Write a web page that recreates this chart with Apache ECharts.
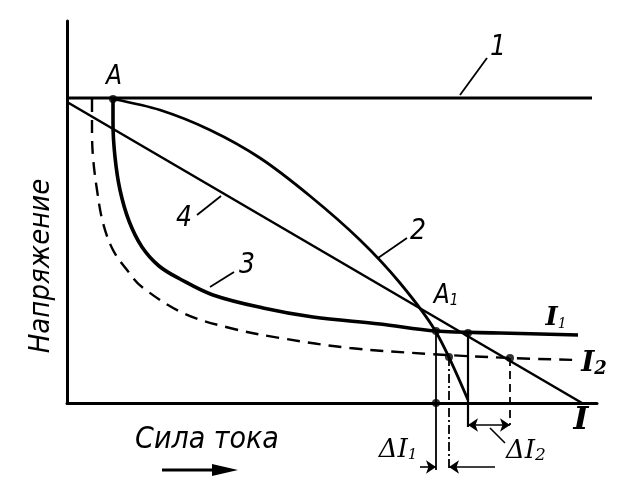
<!DOCTYPE html>
<html><head><meta charset="utf-8">
<script src="https://cdn.jsdelivr.net/npm/echarts@6/dist/echarts.min.js"></script>
<style>html,body{margin:0;padding:0;background:#fff}#c{width:621px;height:483px}</style>
</head><body><div id="c"></div>
<script>
// Schematic units: x = current (arbitrary units), y = voltage (arbitrary units)
const line1 = [[0,305],[525,305]];                       // curve 1 (constant voltage)
const line4 = [[0,301],[515,0]];                         // curve 4 (sloping)
const curve2 = [[46,304],[93,293],[143,273],[193,245],[243,207],[293,163],[333,120],[369,71],[401,3]];
const curve3 = [[46,304],[46,280],[48,246],[53,213],[62,182],[75,156],[92,137],[113,124],[146,108],[196,95],[246,86],[313,79],[369,72],[433,70],[511,68]];
const curveL2 = [[25,304],[25,273],[26,246],[30,213],[36,180],[46,153],[60,133],[75,116],[116,90],[163,75],[213,65],[283,55],[363,49],[443,45],[511,43]];
const dropA1 = [[369,71],[369,-67]];
const dropB = [[382,46],[382,-67]];
const dropC = [[401,70],[401,-24]];
const dropD = [[443,45],[443,-22]];
const points = [[46,304],[369,72],[382,46],[401,70],[443,45],[369,0]];
const dI1Left = [[353,-64],[369,-64]];
const dI1Right = [[428,-64],[382,-64]];
const dI2 = [[401,-22],[443,-22]];

const SANS = "'DejaVu Sans Condensed','Liberation Sans Narrow','DejaVu Sans',sans-serif";
const SERIF = "'DejaVu Serif','Liberation Serif',serif";
const K = '#000';

function ln(data, width, type, smooth) {
  return {type:'line', data, symbol:'none', clip:false, smooth: smooth||false, silent:true,
    smoothMonotone: 'none',
    lineStyle:{color:K, width, type: type||'solid', cap:'butt'}, z:3};
}
function arrows(list, sym) {
  return {type:'lines', coordinateSystem:'cartesian2d', clip:false, silent:true, polyline:false,
    symbol:sym, symbolSize:10, lineStyle:{color:K, width:1.6, opacity:1},
    data:list.map(c => ({coords:c})), z:6};
}
const chart = echarts.init(document.getElementById('c'), null, {renderer:'canvas'});
const txt = (x,y,text,size,fam,extra) => Object.assign({type:'text', x, y, z:10,
  style:{text, fill:K, fontSize:size, fontFamily:fam||SANS, fontStyle:'italic', align:'center', verticalAlign:'middle'}}, extra||{});
const seg = (x1,y1,x2,y2,w) => ({type:'line', z:10, shape:{x1,y1,x2,y2}, style:{stroke:K, lineWidth:w||2}});

chart.setOption({
  animation:false,
  backgroundColor:'#fff',
  grid:{left:67, right:24, top:21, bottom:80},
  xAxis:{type:'value', min:0, max:530, axisLine:{show:true, onZero:false, lineStyle:{color:K, width:3}},
    axisTick:{show:false}, axisLabel:{show:false}, splitLine:{show:false}},
  yAxis:{type:'value', min:0, max:382, axisLine:{show:true, onZero:false, lineStyle:{color:K, width:3}},
    axisTick:{show:false}, axisLabel:{show:false}, splitLine:{show:false}},
  series:[
    ln(line1, 3),
    ln(line4, 2.6),
    ln(curve2, 2.8, 'solid', 0.3),
    ln(curve3, 3.6, 'solid', 0.35),
    ln(curveL2, 2.4, [13,8], 0.35),
    ln(dropA1, 1.8),
    ln(dropB, 1.8, [9,3,2,3]),
    ln(dropC, 2.2),
    ln(dropD, 1.8, [8,5]),
    arrows([dI1Left, dI1Right], ['none','arrow']),
    arrows([dI2], ['arrow','arrow']),
    {type:'scatter', data:points, symbol:'circle', symbolSize:8, clip:false, silent:true,
      itemStyle:{color:K}, z:5}
  ],
  graphic:[
    txt(41,266,'Напряжение',29,SANS,{rotation:Math.PI/2}),
    txt(207,440,'Сила тока',30),
    seg(162,470,226,470,3),
    {type:'polygon', z:10, shape:{points:[[212,464],[238,470],[212,476]]}, style:{fill:K}},
    txt(114,77,'A',26),
    {type:'text', x:446, y:296, z:10, style:{text:'{a|A}{s|1}', fill:K, align:'center', verticalAlign:'middle',
      rich:{a:{fontSize:26, fontFamily:SANS, fontStyle:'italic', fill:K, verticalAlign:'bottom'},
            s:{fontSize:15, fontFamily:SANS, fontStyle:'italic', fill:K, verticalAlign:'bottom'}}}},
    txt(498,48,'1',28), seg(460,95,487,58,1.8),
    txt(418,232,'2',28), seg(378,258,407,238,1.8),
    txt(247,266,'3',28), seg(210,287,234,272,1.8),
    txt(184,219,'4',28), seg(197,215,221,196,1.8),
    {type:'text', x:556, y:318, z:10, style:{text:'{a|I}{s|1}', fill:K, align:'center', verticalAlign:'middle',
      rich:{a:{fontSize:26, fontFamily:SERIF, fontStyle:'italic', fontWeight:'bold', fill:K, verticalAlign:'bottom'},
            s:{fontSize:14, fontFamily:SERIF, fontStyle:'italic', fill:K, verticalAlign:'bottom'}}}},
    {type:'text', x:594, y:364, z:10, style:{text:'{a|I}{s|2}', fill:K, align:'center', verticalAlign:'middle',
      rich:{a:{fontSize:28, fontFamily:SERIF, fontStyle:'italic', fontWeight:'bold', fill:K, verticalAlign:'bottom'},
            s:{fontSize:18, fontFamily:SERIF, fontStyle:'italic', fontWeight:'bold', fill:K, verticalAlign:'bottom'}}}},
    {type:'text', x:581, y:421, z:10, style:{text:'I', fill:K, fontSize:32, fontFamily:SERIF, fontStyle:'italic', fontWeight:'bold', align:'center', verticalAlign:'middle'}},
    {type:'text', x:398, y:450, z:10, style:{text:'{a|ΔI}{s|1}', fill:K, align:'center', verticalAlign:'middle',
      rich:{a:{fontSize:26, fontFamily:SERIF, fontStyle:'italic', fill:K, verticalAlign:'bottom'},
            s:{fontSize:15, fontFamily:SERIF, fontStyle:'italic', fill:K, verticalAlign:'bottom'}}}},
    {type:'text', x:526, y:451, z:10, style:{text:'{a|ΔI}{s|2}', fill:K, align:'center', verticalAlign:'middle',
      rich:{a:{fontSize:26, fontFamily:SERIF, fontStyle:'italic', fill:K, verticalAlign:'bottom'},
            s:{fontSize:17, fontFamily:SERIF, fontStyle:'italic', fill:K, verticalAlign:'bottom'}}}},
    seg(490,428,505,443,1.6)
  ]
});
</script></body></html>
